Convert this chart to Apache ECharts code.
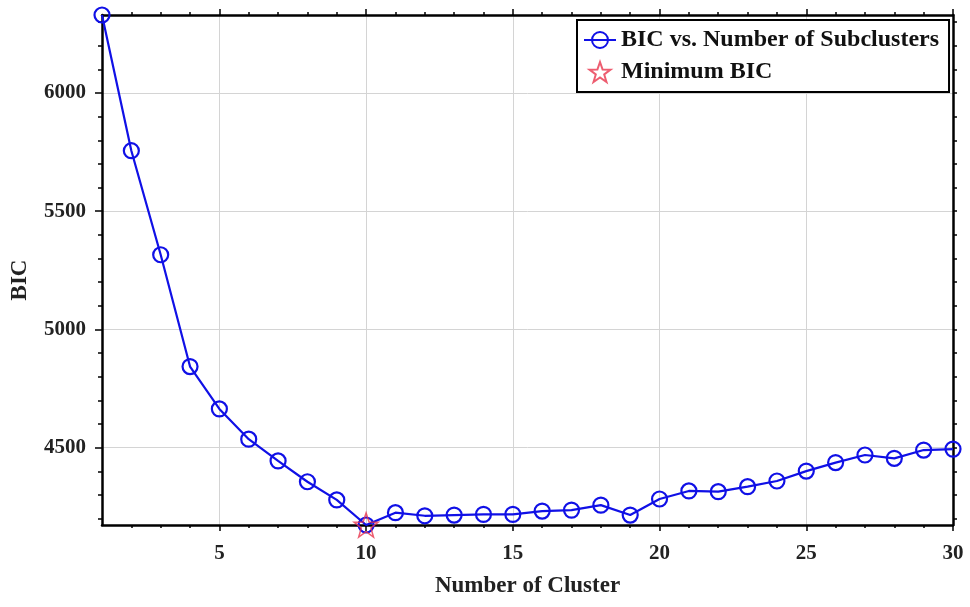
<!DOCTYPE html>
<html>
<head>
<meta charset="utf-8">
<script src="https://cdn.jsdelivr.net/npm/echarts@6/dist/echarts.min.js"></script>
<style>
  html, body { margin: 0; padding: 0; background: #fff; }
  #main { width: 970px; height: 607px; }
</style>
</head>
<body>
<div id="main"></div>
<script>
// data
let clusters = [1, 2, 3, 4, 5, 6, 7, 8, 9, 10, 11, 12, 13, 14, 15, 16, 17, 18, 19, 20, 21, 22, 23, 24, 25, 26, 27, 28, 29, 30];
let bic = [6330, 5756, 5316, 4843, 4664, 4536, 4444, 4356, 4279, 4173, 4225, 4212, 4215, 4218, 4218, 4232, 4236, 4257, 4215, 4283, 4317, 4314, 4335, 4359, 4401, 4437, 4469, 4455, 4490, 4494];
let minCluster = [10];
let minBic = [4173];

// ticks
let xTicks = [5, 10, 15, 20, 25, 30];
let xMinorTicks = [2, 3, 4, 6, 7, 8, 9, 11, 12, 13, 14, 16, 17, 18, 19, 21, 22, 23, 24, 26, 27, 28, 29];
let yTicks = [4500, 5000, 5500, 6000];
let yMinorTicks = [4200, 4300, 4400, 4600, 4700, 4800, 4900, 5100, 5200, 5300, 5400, 5600, 5700, 5800, 5900, 6100, 6200, 6300];

const FONT = "'Liberation Serif', 'Times New Roman', serif";
const BLUE = '#1010e6';
const RED = '#e8344c';
const STAR = 'path://M50,0 L61.76,33.82 L97.55,34.55 L69.02,56.18 L79.39,90.45 L50,70 L20.61,90.45 L30.98,56.18 L2.45,34.55 L38.24,33.82 Z';

let xMin = clusters[0], xMax = clusters[clusters.length - 1];
let yMin = Math.min(...bic), yMax = Math.max(...bic);

let chart = echarts.init(document.getElementById('main'), null, { renderer: 'canvas' });

function extraX(pos, ticks, len, showLine) {
  return {
    type: 'value', position: pos, min: xMin, max: xMax,
    axisLine: { show: showLine, onZero: false, lineStyle: { color: '#000', width: 2.5 } },
    axisTick: { show: true, customValues: ticks, length: len, lineStyle: { color: '#000', width: 1.5 } },
    axisLabel: { show: false },
    splitLine: { show: false }
  };
}
function extraY(pos, ticks, len, showLine) {
  return {
    type: 'value', position: pos, min: yMin, max: yMax,
    axisLine: { show: showLine, onZero: false, lineStyle: { color: '#000', width: 2.5 } },
    axisTick: { show: true, customValues: ticks, length: len, lineStyle: { color: '#000', width: 1.5 } },
    axisLabel: { show: false },
    splitLine: { show: false }
  };
}

let option = {
  animation: false,
  backgroundColor: '#fff',
  grid: { left: 102, right: 17, top: 15, bottom: 82, outerBoundsMode: 'none' },
  legend: {
    orient: 'vertical',
    left: 577, top: 20,
    padding: [8, 10, 8, 6],
    itemGap: 8,
    itemWidth: 32, itemHeight: 20,
    backgroundColor: '#fff',
    borderColor: '#000', borderWidth: 2, borderRadius: 0,
    textStyle: { fontFamily: FONT, fontWeight: 'bold', fontSize: 24, color: '#111', lineHeight: 24 },
    data: ['BIC vs. Number of Subclusters', 'Minimum BIC']
  },
  xAxis: [
    {
      type: 'value', position: 'bottom', min: xMin, max: xMax, splitNumber: 6,
      name: 'Number of Cluster', nameLocation: 'middle', nameGap: 50,
      nameTextStyle: { fontFamily: FONT, fontWeight: 'bold', fontSize: 23, color: '#222' },
      axisLine: { onZero: false, lineStyle: { color: '#000', width: 2.5 } },
      axisTick: { customValues: xTicks, length: 6, lineStyle: { color: '#000', width: 1.5 } },
      axisLabel: { customValues: xTicks, margin: 18, fontFamily: FONT, fontWeight: 'bold', fontSize: 21, color: '#222' },
      splitLine: { show: true, lineStyle: { color: '#d4d4d4', width: 1 } }
    },
    extraX('bottom', xMinorTicks, 3, false),
    extraX('top', xMinorTicks, 3, true),
    extraX('top', xTicks, 6, false)
  ],
  yAxis: [
    {
      type: 'value', position: 'left', min: yMin, max: yMax, splitNumber: 4,
      name: 'BIC', nameLocation: 'middle', nameGap: 70, nameRotate: 90,
      nameTextStyle: { fontFamily: FONT, fontWeight: 'bold', fontSize: 23, color: '#222', padding: [0, 0, 0, -20] },
      axisLine: { onZero: false, lineStyle: { color: '#000', width: 2.5 } },
      axisTick: { customValues: yTicks, length: 7, lineStyle: { color: '#000', width: 1.5 } },
      axisLabel: {
        customValues: yTicks, margin: 16, fontFamily: FONT, fontWeight: 'bold', fontSize: 21, color: '#222',
        formatter: function (v) { return String(v); }
      },
      splitLine: { show: true, lineStyle: { color: '#d4d4d4', width: 1 } }
    },
    extraY('left', yMinorTicks, 4, false),
    extraY('right', yMinorTicks.concat(yTicks), 4, true)
  ],
  series: [
    {
      name: 'BIC vs. Number of Subclusters',
      type: 'line',
      clip: false,
      data: clusters.map((c, i) => [c, bic[i]]),
      symbol: 'circle',
      symbolSize: 15,
      lineStyle: { color: BLUE, width: 2.2 },
      itemStyle: { color: 'rgba(255,255,255,0)', borderColor: BLUE, borderWidth: 2.2 },
      z: 3
    },
    {
      name: 'Minimum BIC',
      type: 'scatter',
      data: minCluster.map((c, i) => [c, minBic[i]]),
      symbol: STAR,
      symbolSize: 24,
      itemStyle: { color: 'rgba(255,255,255,0)', borderColor: RED, borderWidth: 1.5 },
      z: 5
    }
  ]
};

chart.setOption(option);
</script>
</body>
</html>
